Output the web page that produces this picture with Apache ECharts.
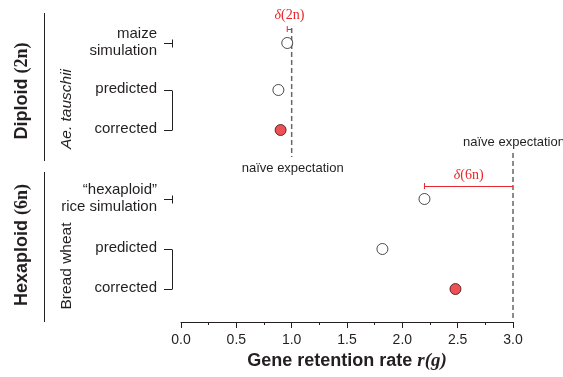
<!DOCTYPE html>
<html>
<head>
<meta charset="utf-8">
<script src="https://cdn.jsdelivr.net/npm/echarts@6/dist/echarts.min.js"></script>
<style>
  html, body { margin: 0; padding: 0; background: #fff; }
  #chart { width: 563px; height: 377px; }
</style>
</head>
<body>
<div id="chart"></div>
<script>
// Gene retention rates for the diploid and hexaploid comparisons
const rowLabels = ['maize\nsimulation', 'predicted', 'corrected', '\u201Chexaploid\u201D\nrice simulation', 'predicted', 'corrected'];
const retention = [0.96, 0.88, 0.90, 2.20, 1.82, 2.48];
const isCorrected = [false, false, true, false, false, true];
const naiveExpectation = [1.0, 3.0];          // diploid, hexaploid
const simulationValue = [0.96, 2.20];           // start of the delta arrows
const deltaLabels = ['(2n)', '(6n)'];
const ploidyNames = ['Diploid', 'Hexaploid'];
const ploidyLevels = ['(2n)', '(6n)'];
const speciesLabels = ['Ae. tauschii', 'Bread wheat'];
const xMin = 0, xMax = 3, xInterval = 0.5;

// vertical layout (units of the hidden y axis)
const rowPos = [30, 77, 117, 186, 236, 276];
const refLineSpan = [[15, 144], [140, 305]];
const arrowRow = [16, 173];
const Y_MAX = 309;

const FONT = 'Liberation Sans, Arial, sans-serif';
const SERIF = 'Liberation Serif, Times New Roman, serif';
const RED = '#e8262b';
const INK = '#231f20';

const chart = echarts.init(document.getElementById('chart'), null, { renderer: 'canvas' });

const pointData = retention.map((v, i) => ({
  value: [v, rowPos[i]],
  itemStyle: isCorrected[i]
    ? { color: RED, borderColor: '#3a1010', borderWidth: 1 }
    : { color: '#fff', borderColor: INK, borderWidth: 1 }
}));

const refLines = naiveExpectation.map((x, k) => ({
  type: 'line',
  data: [[x, refLineSpan[k][0]], [x, refLineSpan[k][1]]],
  symbol: 'none',
  silent: true,
  lineStyle: { color: '#666', width: 1.5, type: [5, 3] },
  z: 1
}));

const arrows = naiveExpectation.map((x, k) => ({
  type: 'line',
  data: [],
  silent: true,
  markLine: {
    silent: true,
    symbol: ['none', 'arrow'],
    symbolSize: [0, 6],
    lineStyle: { color: RED, width: 1, type: 'solid' },
    label: { show: false },
    data: [[{ coord: [simulationValue[k], arrowRow[k]] }, { coord: [x, arrowRow[k]] }]]
  }
}));

const arrowStarts = simulationValue.map((x, k) => ({
  type: 'line',
  data: [[x, arrowRow[k] - 3], [x, arrowRow[k] + 3]],
  symbol: 'none',
  silent: true,
  lineStyle: { color: RED, width: 1 }
}));

chart.setOption({
  animation: false,
  grid: { left: 181, right: 50, top: 13, bottom: 55 },
  xAxis: {
    type: 'value',
    position: 'bottom',
    min: xMin, max: xMax, interval: xInterval,
    splitLine: { show: false },
    axisLine: { onZero: false, lineStyle: { color: INK, width: 1 } },
    axisTick: { length: 6, lineStyle: { color: INK } },
    minorTick: { show: true, splitNumber: 2, length: 3, lineStyle: { color: INK } },
    axisLabel: { color: INK, fontFamily: FONT, fontSize: 14, margin: 11,
                 formatter: v => v.toFixed(1) },
    name: '{b|Gene retention rate }{i|r(g)}',
    nameLocation: 'middle',
    nameGap: 30,
    nameTextStyle: {
      rich: {
        b: { fontFamily: FONT, fontSize: 18, fontWeight: 'bold', color: INK },
        i: { fontFamily: SERIF, fontSize: 19, fontWeight: 'bold', fontStyle: 'italic', color: INK }
      }
    }
  },
  yAxis: { type: 'value', min: 0, max: Y_MAX, inverse: true, show: false },
  series: [
    ...refLines,
    ...arrows,
    ...arrowStarts,
    {
      type: 'scatter',
      data: pointData,
      symbol: 'circle',
      symbolSize: 11,
      z: 5
    }
  ]
});

// annotations positioned through the axis scales
const px = (x, y) => chart.convertToPixel({ gridIndex: 0 }, [x, y]);
const g = [];
const bracketX = 172, stubX = 164;
const line = (x1, y1, x2, y2, color, w) => ({
  type: 'line', silent: true,
  shape: { x1, y1, x2, y2 },
  style: { stroke: color || INK, lineWidth: w || 1 }
});
const text = (x, y, str, opt) => ({
  type: 'text', silent: true, x, y,
  style: Object.assign({ text: str, fill: INK, font: '15px ' + FONT,
                         align: 'right', verticalAlign: 'middle' }, opt || {})
});

// row labels
rowLabels.forEach((lab, i) => {
  const y = px(0, rowPos[i])[1];
  g.push(text(157, y - 1, lab, { lineHeight: 17 }));
});

// group markers: single stub for simulations, bracket for predicted/corrected
[0, 3].forEach(i => {
  const y = Math.round(px(0, rowPos[i])[1]) + 0.5;
  g.push(line(stubX, y, bracketX, y));
  g.push(line(bracketX + 0.5, y - 4, bracketX + 0.5, y + 4));
});
[[1, 2], [4, 5]].forEach(([a, b]) => {
  const ya = Math.round(px(0, rowPos[a])[1]) + 0.5;
  const yb = Math.round(px(0, rowPos[b])[1]) + 0.5;
  g.push(line(stubX, ya, bracketX, ya));
  g.push(line(stubX, yb, bracketX, yb));
  g.push(line(bracketX + 0.5, ya, bracketX + 0.5, yb));
});

// ploidy and species labels with separators
const groupSpan = [[13, 161], [172, 322]];
const ploidyCenter = [91, 245];
const speciesCenter = [109, 266];
groupSpan.forEach((s, k) => {
  g.push(line(44.5, s[0], 44.5, s[1], INK, 1));
  g.push({
    type: 'text', silent: true, x: 22, y: ploidyCenter[k], rotation: Math.PI / 2,
    style: {
      text: '{s|' + ploidyNames[k] + ' }{n|' + ploidyLevels[k] + '}',
      align: 'center', verticalAlign: 'middle',
      rich: {
        s: { fontFamily: FONT, fontWeight: 'bold', fontSize: 18, fill: INK },
        n: { fontFamily: SERIF, fontWeight: 'bold', fontSize: 18, fill: INK }
      }
    }
  });
  g.push({
    type: 'text', silent: true, x: 67, y: speciesCenter[k], rotation: Math.PI / 2,
    style: { text: speciesLabels[k], fill: INK,
             font: (k === 0 ? 'italic ' : '') + '15.5px ' + FONT,
             align: 'center', verticalAlign: 'middle' }
  });
});

// naive expectation labels
const naiveY = [168, 142];
naiveExpectation.forEach((x, k) => {
  const p = px(x, 0);
  g.push(text(p[0] + 1, naiveY[k], 'na\u00EFve expectation',
              { align: 'center', font: '13px ' + FONT }));
});

// delta labels above the arrows
const deltaOffset = [14, 11];
naiveExpectation.forEach((x, k) => {
  const a = px(simulationValue[k], arrowRow[k]);
  const b = px(x, arrowRow[k]);
  g.push({
    type: 'text', silent: true, x: (a[0] + b[0]) / 2, y: a[1] - deltaOffset[k],
    style: {
      text: '{d|\u03B4}{t|' + deltaLabels[k] + '}',
      align: 'center', verticalAlign: 'middle',
      rich: {
        d: { fontFamily: SERIF, fontStyle: 'italic', fontSize: 14, fill: RED },
        t: { fontFamily: SERIF, fontSize: 14, fill: RED }
      }
    }
  });
});

chart.setOption({ graphic: { elements: g } });
</script>
</body>
</html>
